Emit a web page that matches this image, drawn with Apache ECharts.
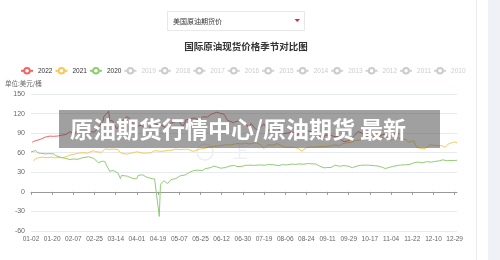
<!DOCTYPE html>
<html>
<head>
<meta charset="utf-8">
<script src="https://cdn.jsdelivr.net/npm/echarts@6/dist/echarts.min.js"></script>
<style>
  html, body { margin: 0; padding: 0; background: #fff; }
  #chart { width: 500px; height: 260px; }
</style>
</head>
<body>
<div id="chart"></div>
<script>
// 横轴: 闰年日历，去掉 01-01 / 07-04 / 12-25 三个固定休市日
const holidays = ['01-01', '07-04', '12-25']
const days = []
for (let d = new Date(2020, 0, 1); d.getFullYear() === 2020; d.setDate(d.getDate() + 1)) {
  const s = String(d.getMonth() + 1).padStart(2, '0') + '-' + String(d.getDate()).padStart(2, '0')
  if (holidays.indexOf(s) < 0) days.push(s)
}

const years = ['2022', '2021', '2020', '2019', '2018', '2017', '2016', '2015', '2014', '2013', '2012', '2011', '2010']
const yTicks = [-60, -30, 0, 30, 60, 90, 120, 150]

const dates2022 = ['01-03', '01-05', '01-07', '01-11', '01-14', '01-18', '01-21', '01-25', '01-28', '02-01', '02-04', '02-08', '02-11', '02-15', '02-18', '02-23', '02-25',
  '03-01', '03-03', '03-04', '03-08', '03-09', '03-11', '03-15', '03-16', '03-18', '03-23', '03-25', '03-29', '03-31', '04-05', '04-08', '04-11', '04-14', '04-19', '04-22',
  '04-25', '04-29', '05-04', '05-06', '05-10', '05-13', '05-17', '05-20', '05-24', '05-27', '05-31', '06-03', '06-08', '06-10', '06-14', '06-17', '06-22', '06-24', '06-29',
  '07-01', '07-06', '07-08', '07-12', '07-14', '07-19', '07-22', '07-26', '07-29', '08-02', '08-05', '08-09', '08-12', '08-16', '08-19', '08-23', '08-26', '08-30', '09-02',
  '09-07', '09-09', '09-13', '09-16', '09-20', '09-23', '09-26', '09-30', '10-04', '10-07', '10-11', '10-14', '10-18', '10-21', '10-25', '10-28', '11-01', '11-04', '11-08', '11-11']
const price2022 = [76.08, 77.85, 78.90, 81.22, 83.82, 85.43, 85.14, 85.60, 86.82, 88.20, 92.31, 89.36, 93.10, 92.07, 91.07, 92.10, 91.59,
  103.41, 107.67, 115.68, 123.70, 108.70, 109.33, 96.44, 95.04, 104.70, 114.93, 113.90, 104.24, 100.28, 102.00, 98.26, 94.29, 106.95, 102.56, 102.07,
  98.54, 104.69, 107.81, 109.77, 99.76, 110.49, 112.40, 113.23, 109.77, 115.07, 114.67, 118.87, 122.11, 120.67, 118.93, 109.56, 106.19, 107.62, 109.78,
  108.43, 98.53, 104.79, 95.84, 95.78, 104.22, 94.70, 94.98, 98.62, 94.42, 89.01, 90.50, 92.09, 86.53, 90.77, 93.74, 93.06, 91.64, 86.87,
  81.94, 86.79, 87.31, 85.11, 84.45, 78.74, 76.71, 79.49, 86.52, 92.64, 89.35, 85.61, 82.82, 85.05, 85.32, 87.90, 88.37, 92.61, 88.91, 88.96]

const dates2021 = ['01-04', '01-05', '01-06', '01-08', '01-12', '01-15', '01-20', '01-22', '01-26', '01-29', '02-02', '02-05', '02-09', '02-12', '02-16', '02-19', '02-24',
  '02-26', '03-02', '03-05', '03-08', '03-12', '03-16', '03-18', '03-23', '03-25', '03-30', '04-01', '04-06', '04-09', '04-13', '04-16', '04-20', '04-23', '04-28', '04-30',
  '05-04', '05-07', '05-11', '05-14', '05-19', '05-21', '05-25', '05-28', '06-02', '06-04', '06-08', '06-11', '06-16', '06-18', '06-23', '06-25', '06-30', '07-02', '07-06',
  '07-09', '07-13', '07-16', '07-19', '07-22', '07-27', '07-30', '08-03', '08-06', '08-10', '08-13', '08-17', '08-20', '08-24', '08-27', '08-31', '09-03', '09-08', '09-10',
  '09-14', '09-17', '09-21', '09-24', '09-28', '10-01', '10-05', '10-08', '10-12', '10-15', '10-20', '10-22', '10-26', '10-28', '11-01', '11-04', '11-09', '11-12', '11-16',
  '11-19', '11-23', '11-26', '11-30', '12-01', '12-03', '12-07', '12-10', '12-14', '12-17', '12-20', '12-22', '12-27', '12-29', '12-31']
const price2021 = [47.62, 49.93, 50.63, 52.24, 53.21, 52.36, 53.24, 52.27, 52.61, 52.20, 54.76, 56.85, 58.36, 59.47, 60.05, 59.24, 63.22,
  61.50, 60.64, 66.09, 65.05, 65.61, 64.80, 60.00, 57.76, 58.56, 60.55, 61.45, 59.33, 59.32, 60.18, 63.13, 62.44, 62.14, 63.86, 63.58,
  65.69, 64.90, 65.28, 65.37, 62.05, 63.58, 66.07, 66.32, 68.83, 69.62, 70.05, 70.91, 72.15, 71.64, 73.08, 74.05, 73.47, 75.16, 73.37,
  74.56, 75.25, 71.81, 66.42, 71.91, 71.65, 73.95, 70.56, 68.28, 68.29, 68.44, 66.59, 62.32, 67.54, 68.74, 68.50, 69.29, 69.30, 69.72,
  70.46, 71.97, 70.56, 73.98, 75.29, 75.88, 78.93, 79.35, 80.64, 82.28, 83.87, 83.76, 84.65, 82.81, 84.05, 78.81, 84.15, 80.79, 80.76,
  76.10, 78.50, 68.15, 66.18, 65.57, 66.26, 72.05, 71.67, 70.73, 70.86, 68.23, 72.76, 75.57, 76.56, 75.21]

const dates2020 = ['01-02', '01-03', '01-06', '01-07', '01-08', '01-10', '01-14', '01-17', '01-21', '01-23', '01-27', '01-31', '02-04', '02-07', '02-11', '02-14', '02-20',
  '02-24', '02-26', '02-28', '03-03', '03-05', '03-06', '03-09', '03-11', '03-13', '03-16', '03-18', '03-19', '03-20', '03-24', '03-27', '03-30', '04-01', '04-02', '04-06',
  '04-09', '04-14', '04-16', '04-17', '04-20', '04-21', '04-22', '04-24', '04-27', '04-28', '04-30', '05-04', '05-08', '05-12', '05-15', '05-19', '05-22', '05-27', '05-29',
  '06-03', '06-05', '06-08', '06-11', '06-15', '06-19', '06-23', '06-25', '06-30', '07-02', '07-08', '07-10', '07-15', '07-20', '07-22', '07-27', '07-31', '08-04', '08-07',
  '08-12', '08-14', '08-18', '08-21', '08-26', '08-28', '09-01', '09-04', '09-08', '09-10', '09-14', '09-17', '09-21', '09-25', '09-29', '10-02', '10-06', '10-09', '10-14',
  '10-16', '10-21', '10-23', '10-26', '10-28', '10-30', '11-03', '11-05', '11-09', '11-12', '11-16', '11-20', '11-24', '11-27', '12-01', '12-04', '12-08', '12-11', '12-15',
  '12-18', '12-21', '12-24', '12-29', '12-31']
const price2020 = [61.18, 63.05, 63.27, 62.70, 59.61, 59.04, 58.23, 58.54, 58.34, 55.59, 53.14, 51.56, 49.61, 50.32, 49.94, 52.05, 53.78,
  51.43, 48.73, 44.76, 47.18, 45.90, 41.28, 31.13, 32.98, 31.73, 28.70, 20.37, 25.22, 22.43, 24.01, 21.51, 20.09, 20.31, 25.32, 26.08,
  22.76, 20.11, 19.87, 18.27, -37.63, 10.01, 13.78, 16.94, 12.78, 12.34, 18.84, 20.39, 24.74, 25.78, 29.43, 32.50, 33.25, 32.81, 35.49,
  37.29, 39.55, 38.19, 36.34, 37.12, 39.75, 40.37, 38.72, 39.27, 40.65, 40.90, 40.55, 41.20, 40.81, 41.90, 41.60, 40.27, 41.70, 41.22,
  42.67, 42.01, 42.89, 42.34, 43.39, 42.97, 42.76, 39.77, 36.76, 37.30, 37.26, 40.97, 39.31, 40.25, 39.29, 37.05, 39.57, 40.60, 41.04,
  40.88, 40.03, 39.85, 38.56, 37.39, 35.79, 37.66, 38.79, 40.29, 41.12, 41.34, 42.15, 44.91, 45.53, 44.55, 46.26, 45.60, 46.57, 47.62,
  49.10, 47.74, 48.23, 48.00, 48.52]

const seriesData = {
  '2022': dates2022.map((d, i) => [d, price2022[i]]),
  '2021': dates2021.map((d, i) => [d, price2021[i]]),
  '2020': dates2020.map((d, i) => [d, price2020[i]])
}
const colors = {'2022': '#ee6666', '2021': '#fac858', '2020': '#91cc75'}

const font = '"Liberation Sans", "Noto Sans CJK SC", sans-serif'
const cjk = '"Noto Sans CJK SC", sans-serif'
const chart = echarts.init(document.getElementById('chart'))

let selected = {}
years.forEach(y => { selected[y] = !!seriesData[y] })

let option = {
  backgroundColor: '#fff',
  animation: false,
  textStyle: {fontFamily: font},
  title: {
    text: '国际原油现货价格季节对比图',
    left: 241,
    textAlign: 'center',
    top: 37,
    textStyle: {fontSize: 9.5, fontWeight: 'bold', color: '#333', fontFamily: cjk}
  },
  legend: {
    data: years,
    selected: selected,
    left: 15,
    top: 62,
    itemWidth: 12,
    itemHeight: 7,
    itemGap: 2,
    inactiveColor: '#ccc',
    textStyle: {fontSize: 6.5, color: '#333'}
  },
  grid: {left: 31, right: 43, top: 94, bottom: 29},
  xAxis: [{
    type: 'category',
    data: days,
    boundaryGap: false,
    axisLine: {onZero: true, lineStyle: {color: '#999'}},
    axisTick: {interval: 17, length: 3, lineStyle: {color: '#999'}},
    axisLabel: {show: false},
    splitLine: {show: false}
  }, {
    type: 'category',
    data: days,
    boundaryGap: false,
    position: 'bottom',
    axisLine: {show: false, onZero: false},
    axisTick: {show: false},
    axisLabel: {interval: 17, fontSize: 6.5, color: '#666', margin: 5}
  }],
  yAxis: {
    type: 'value',
    min: yTicks[0],
    max: yTicks[yTicks.length - 1],
    interval: 30,
    axisLine: {show: false},
    axisTick: {show: false},
    axisLabel: {fontSize: 7, color: '#666', margin: 6},
    splitLine: {lineStyle: {color: '#e8eaf2', width: 1}}
  },
  graphic: [
    // 外框和右侧灰栏
    {type: 'rect', shape: {x: 488, y: 0, width: 12, height: 260}, style: {fill: '#f0f1f7'}, silent: true},
    {type: 'line', shape: {x1: 476.5, y1: 0, x2: 476.5, y2: 260}, style: {stroke: '#ececec', lineWidth: 1}, silent: true},
    // 下拉框
    {type: 'rect', shape: {x: 167.5, y: 11.5, width: 137, height: 19}, style: {fill: '#fff', stroke: '#e8e8e8', lineWidth: 1}, silent: true},
    {type: 'text', x: 173, y: 21, style: {text: '美国原油期货价', fontSize: 7, fill: '#333', verticalAlign: 'middle', fontFamily: cjk}, silent: true},
    {type: 'polygon', shape: {points: [[294.5, 19], [300, 19], [297.25, 22]]}, style: {fill: '#e4253d'}, silent: true},
    // 单位
    {type: 'text', x: 5, y: 84, style: {text: '单位:美元/桶', fontSize: 6.5, fill: '#666', verticalAlign: 'middle', fontFamily: cjk}, silent: true},
    // 水印
    {type: 'circle', shape: {cx: 205, cy: 152, r: 8}, style: {fill: 'none', stroke: '#eeeeee', lineWidth: 1.5}, z: 1, silent: true},
    {type: 'text', x: 232, y: 152, style: {text: '上', fontSize: 16, fill: '#efefef', verticalAlign: 'middle', fontFamily: cjk}, z: 1, silent: true},
    // 横幅
    {type: 'rect', shape: {x: 59, y: 110, width: 381, height: 38}, style: {fill: 'rgba(75,75,75,0.53)'}, z: 100, silent: true},
    {type: 'text', x: 70, y: 129, z: 101, silent: true,
      style: {text: '原油期货行情中心/原油期货 最新', fontSize: 23, fontWeight: 'bold', fill: '#fff', verticalAlign: 'middle', fontFamily: cjk}}
  ],
  series: years.map(y => ({
    name: y,
    type: 'line',
    xAxisIndex: 0,
    symbol: 'emptyCircle',
    showSymbol: false,
    color: colors[y] || '#ccc',
    lineStyle: {width: 1},
    data: seriesData[y] || []
  }))
}
chart.setOption(option)
</script>
</body>
</html>
